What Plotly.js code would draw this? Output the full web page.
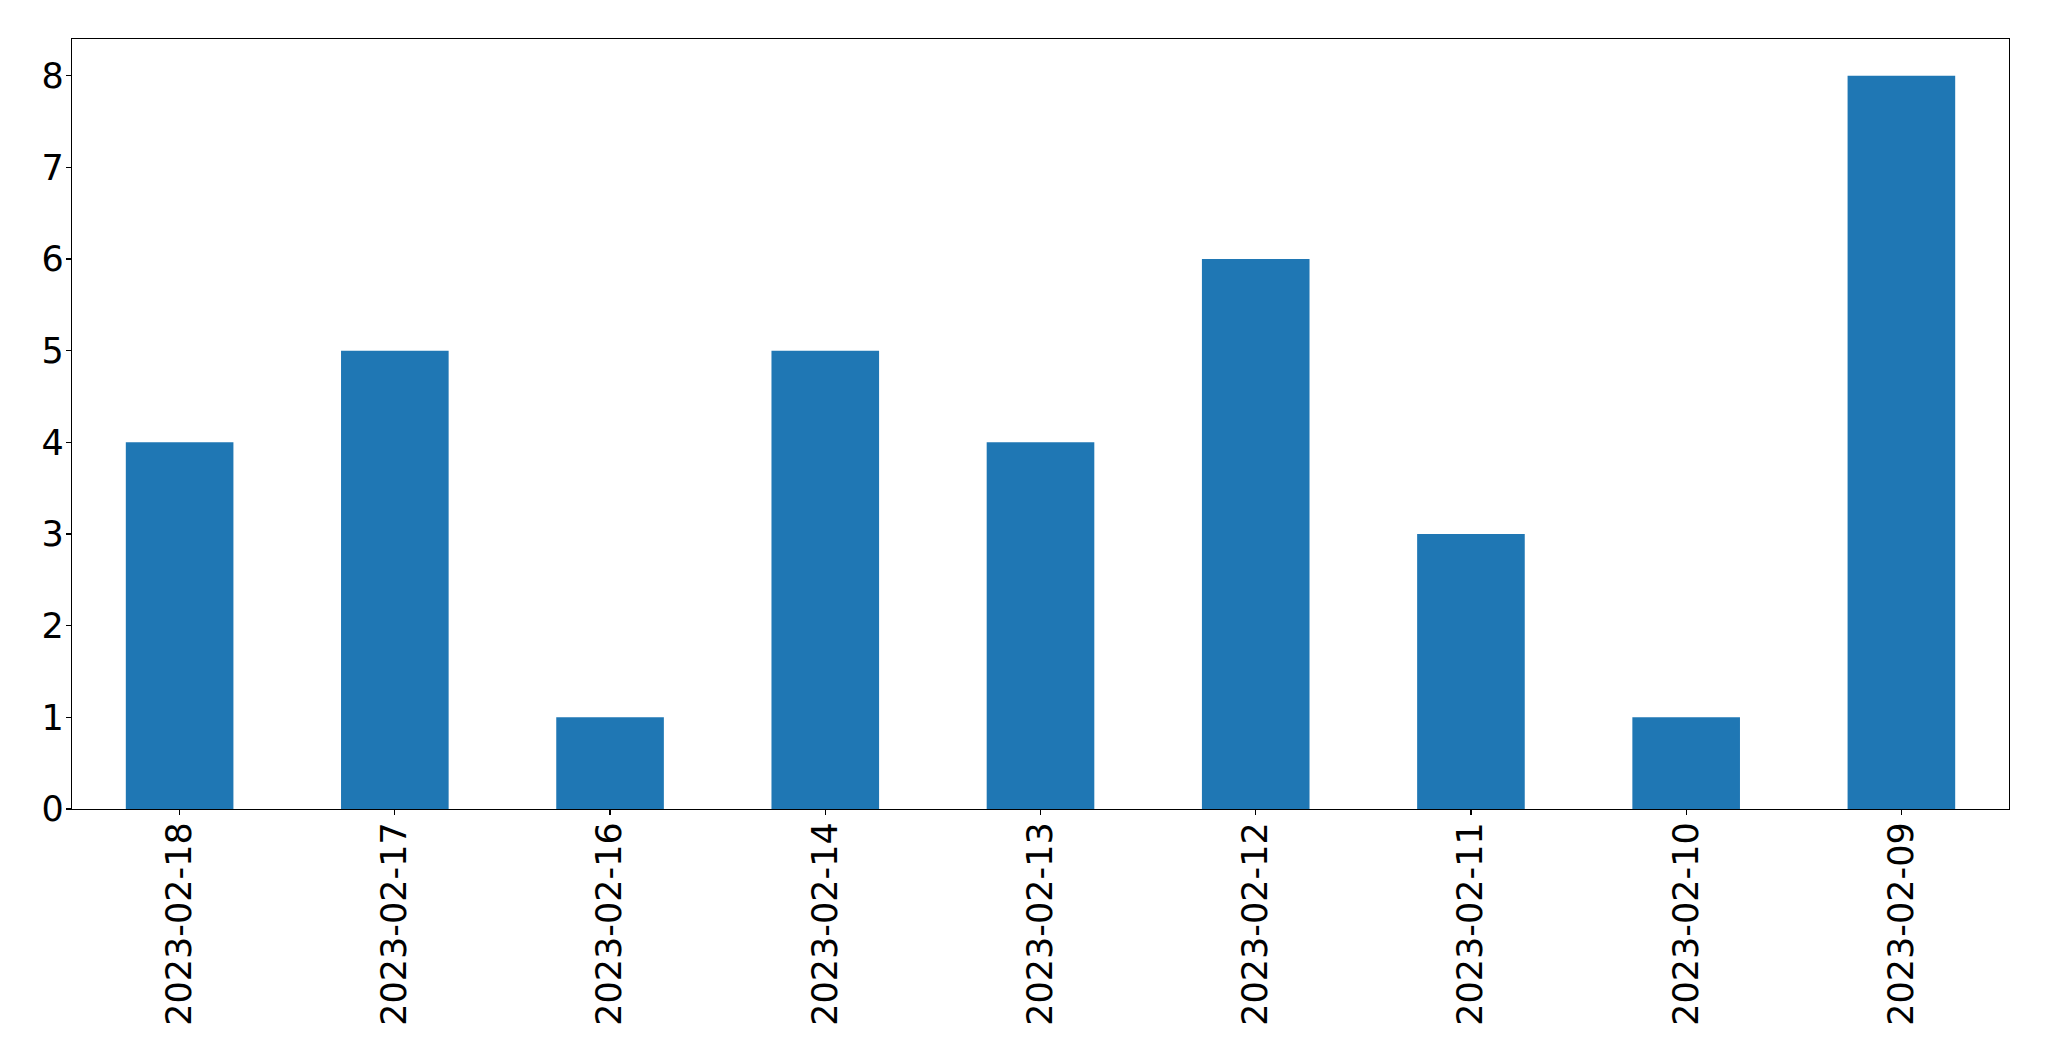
<!DOCTYPE html>
<html>
<head>
<meta charset="utf-8">
<script src="https://cdn.plot.ly/plotly-3.0.1.min.js"></script>
<style>html,body{margin:0;padding:0;background:#fff;}</style>
</head>
<body>
<div id="chart" style="width:2049px;height:1061px;"></div>
<script>
const dates = ["2023-02-18","2023-02-17","2023-02-16","2023-02-14","2023-02-13","2023-02-12","2023-02-11","2023-02-10","2023-02-09"];
const counts = [4, 5, 1, 5, 4, 6, 3, 1, 8];
const yTicks = [0, 1, 2, 3, 4, 5, 6, 7, 8];

const trace = {
  type: "bar",
  x: dates,
  y: counts,
  width: 0.5,
  marker: {color: "#1f77b4", line: {width: 0}},
  hoverinfo: "x+y"
};

const layout = {
  width: 2049,
  height: 1061,
  margin: {l: 72, r: 40, t: 39, b: 252, pad: 0},
  paper_bgcolor: "#fff",
  plot_bgcolor: "#fff",
  showlegend: false,
  font: {family: "DejaVu Sans", size: 35, color: "#000"},
  xaxis: {
    type: "category",
    range: [-0.5, 8.5],
    tickangle: -90,
    ticks: "outside",
    ticklen: 5,
    tickwidth: 1.3,
    tickcolor: "#000",
    showline: true,
    linecolor: "#000",
    linewidth: 1.3,
    mirror: true,
    showgrid: false,
    zeroline: false,
    ticklabelstandoff: -7,
    tickfont: {family: "DejaVu Sans", size: 35, color: "#000"}
  },
  yaxis: {
    range: [0, 8.4],
    tickmode: "array",
    tickvals: yTicks,
    ticktext: yTicks.map(String),
    ticks: "outside",
    ticklen: 5,
    tickwidth: 1.3,
    tickcolor: "#000",
    showline: true,
    linecolor: "#000",
    linewidth: 1.3,
    mirror: true,
    showgrid: false,
    zeroline: false,
    ticklabelstandoff: -5,
    tickfont: {family: "DejaVu Sans", size: 35, color: "#000"}
  },
  bargap: 0.5
};

Plotly.newPlot("chart", [trace], layout, {displayModeBar: false, staticPlot: true});
</script>
</body>
</html>
